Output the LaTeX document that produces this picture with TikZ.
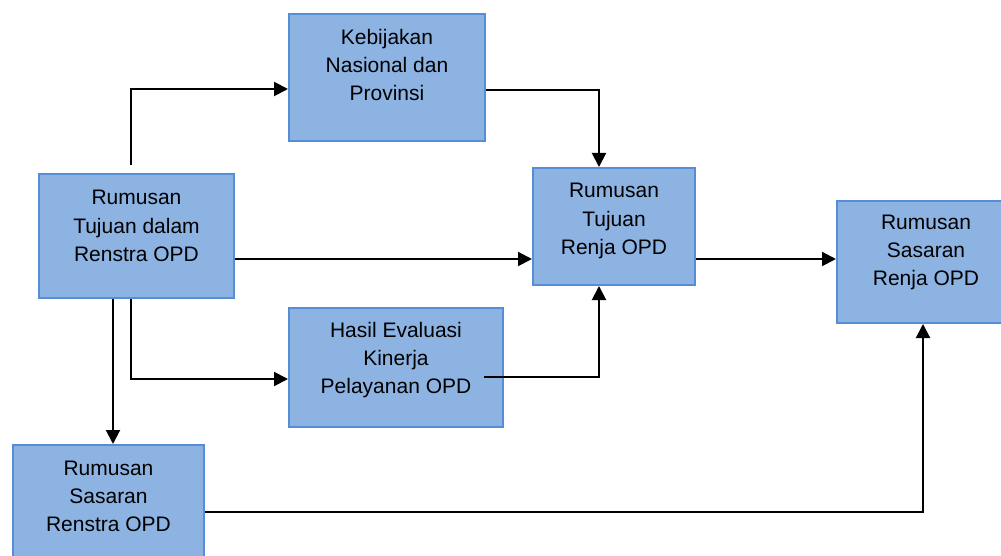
\documentclass[tikz,border=0pt]{standalone}
\usepackage{fontspec}
\setmainfont{Liberation Sans}
\usetikzlibrary{arrows.meta,calc}
\definecolor{boxfill}{HTML}{8DB3E2}
\definecolor{boxline}{HTML}{558ED5}
\tikzset{
  flowbox/.style={draw=boxline,fill=boxfill,line width=2pt,rectangle,inner sep=0pt,anchor=north west},
  boxtext/.style={align=center,anchor=base,inner sep=0pt,font=\fontsize{21}{28}\selectfont},
  conn/.style={line width=2pt,draw=black},
  arr/.style={conn,-{Triangle[length=14pt,width=14pt]}}
}
\begin{document}
\begin{tikzpicture}[x=1pt,y=-1pt]
\clip (0,0) rectangle (1001,556);
\fill[white] (0,0) rectangle (1001,556);
% boxes
\node[flowbox,minimum width=196pt,minimum height=127pt] (kb) at (288,13) {};
\node[flowbox,minimum width=195pt,minimum height=124pt] (rt) at (38,173) {};
\node[flowbox,minimum width=214pt,minimum height=119pt] (he) at (288,307) {};
\node[flowbox,minimum width=191pt,minimum height=130pt] (rs) at (12,444) {};
\node[flowbox,minimum width=162pt,minimum height=117pt] (tj) at (532,167) {};
\node[flowbox,minimum width=178pt,minimum height=122pt] (sr) at (836,200) {};
% connectors
\coordinate (c1s) at ($(rt.north west)+(93,-8)$);
\draw[arr] (c1s) |- ($(kb.north west)+(0,76)$);
\draw[arr] ($(kb.north east)+(0,77)$) -| ($(tj.north west)+(67,0)$);
\draw[arr] ($(rt.north east)+(0,86)$) -- ($(tj.north west)+(0,92)$);
\draw[arr] ($(rt.south west)+(75,0)$) -- ($(rs.north west)+(101,0)$);
\draw[arr] ($(rt.south west)+(93,0)$) |- ($(he.north west)+(0,72)$);
\draw[arr] ($(he.north east)+(-20,70)$) -| ($(tj.south west)+(67,0)$);
\draw[arr] ($(tj.north east)+(0,92)$) -- ($(sr.north west)+(0,59)$);
\draw[arr] ($(rs.north east)+(0,68)$) -| ($(sr.south west)+(87,0)$);
% texts
\node[boxtext] (kbt) at ($(kb.north)+(0,88)$) {Kebijakan\\Nasional dan\\Provinsi};
\node[boxtext] (rtt) at ($(rt.north)+(0,88)$) {Rumusan\\Tujuan dalam\\Renstra OPD};
\node[boxtext] (het) at ($(he.north)+(0,86)$) {Hasil Evaluasi\\Kinerja\\Pelayanan OPD};
\node[boxtext] (rst) at ($(rs.north)+(0,87)$) {Rumusan\\Sasaran\\Renstra OPD};
\node[boxtext] (tjt) at ($(tj.north)+(0,87)$) {Rumusan\\Tujuan\\Renja OPD};
\node[boxtext] (srt) at ($(sr.north)+(0,85)$) {Rumusan\\Sasaran\\Renja OPD};
\end{tikzpicture}
\end{document}
